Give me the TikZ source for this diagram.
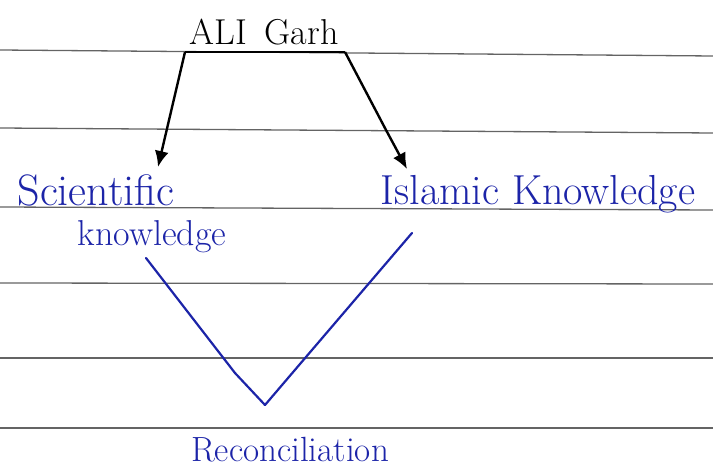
\documentclass[tikz,border=0pt]{standalone}
\usetikzlibrary{arrows.meta}
\definecolor{ink}{RGB}{28,36,168}
\definecolor{ruleline}{RGB}{100,100,100}

\begin{document}
\begin{tikzpicture}[x=1pt,y=-1pt,
    hand/.style={font=\fontsize{42}{48}\selectfont, inner sep=0pt},
    blkarrow/.style={line width=2.4pt, line join=round, -{Latex[length=16pt,width=14pt]}},
    blueline/.style={ink, line width=2.2pt, line cap=round, line join=round}]
    \useasboundingbox (0,0) rectangle (713,473);

    % ruled paper
    \foreach \y/\d in {50/6,128/5,207/3,283/1,358/0,428/0}
        \draw[ruleline, line width=1.3pt] (0,\y) -- (713,\y+\d);

    \node[hand, font=\fontsize{36}{40}\selectfont](top) at (264,32) {ALI\enspace Garh};
    \node[hand, ink, font=\fontsize{44}{48}\selectfont](sci) at (96,190) {Scientific};
    \node[hand, ink, font=\fontsize{36}{40}\selectfont](sciknow) at (152,237) {knowledge};
    \node[hand, ink](isl) at (538,194) {Islamic Knowledge};
    \node[hand, ink, font=\fontsize{35}{40}\selectfont](rec) at (290,450) {Reconciliation};

    \coordinate (barl) at (185,52);
    \coordinate (barr) at (345,52);
    \coordinate (tipl) at (158,167);
    \coordinate (tipr) at (407,169);
    \coordinate (vl) at (146,258);
    \coordinate (vr) at (412,233);
    \coordinate (vtip) at (265,405);

    \draw[line width=2.4pt] (barl) -- (barr);
    \draw[blkarrow] (barl) -- (tipl);
    \draw[blkarrow] (barr) -- (386,130) -- (tipr);

    \draw[blueline] (vl) -- (235,373) -- (vtip);
    \draw[blueline] (vr) -- (300,364) -- (vtip);
\end{tikzpicture}
\end{document}
